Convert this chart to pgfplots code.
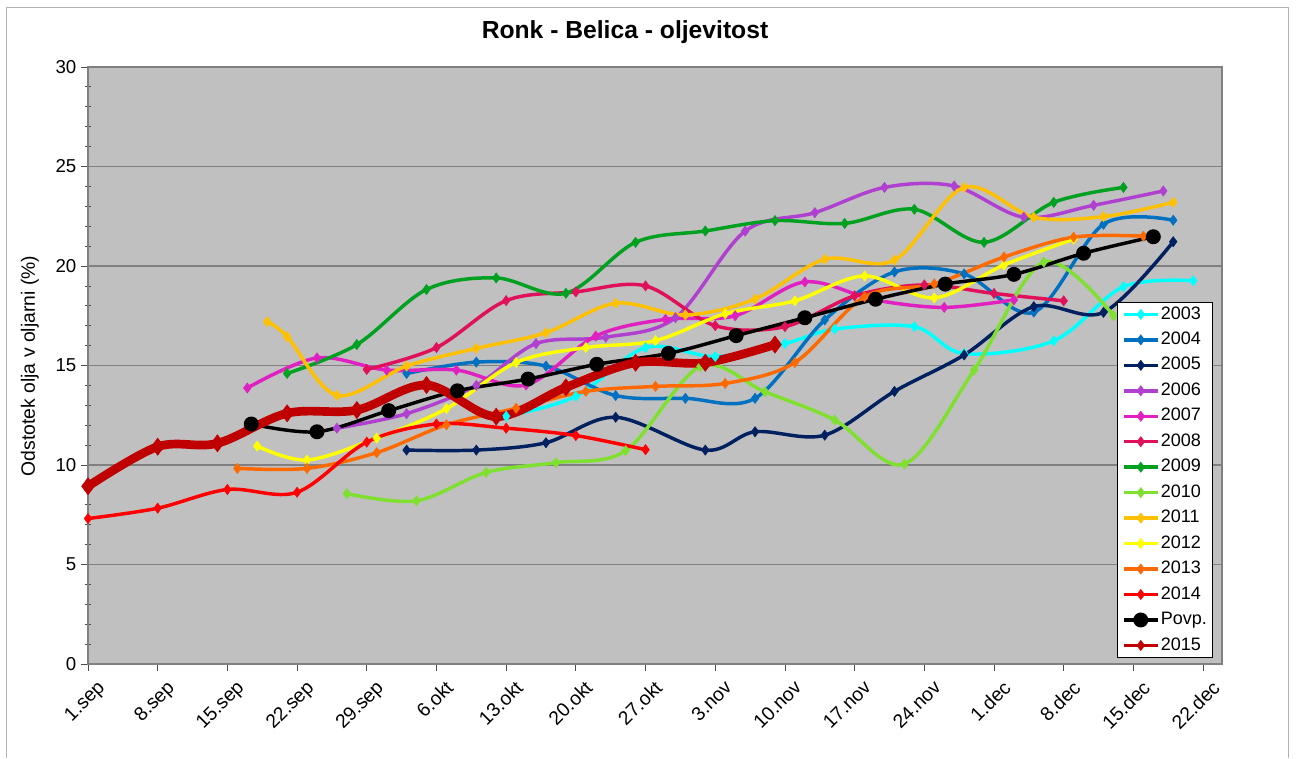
\documentclass[border=0pt]{standalone}
\usepackage{fontspec}
\setmainfont{Liberation Sans}
\usepackage{pgfplots}
\pgfplotsset{compat=1.18}
\definecolor{c03}{HTML}{00FFFF}
\definecolor{c04}{HTML}{0070C0}
\definecolor{c05}{HTML}{002060}
\definecolor{c06}{HTML}{B040D0}
\definecolor{c07}{HTML}{E020C0}
\definecolor{c08}{HTML}{E0105A}
\definecolor{c09}{HTML}{00A020}
\definecolor{c10}{HTML}{80E030}
\definecolor{c11}{HTML}{FFC000}
\definecolor{c12}{HTML}{FFFF00}
\definecolor{c13}{HTML}{FF6A00}
\definecolor{c14}{HTML}{FF0000}
\definecolor{c15}{HTML}{C00000}
\definecolor{bgc}{HTML}{C0C0C0}
\definecolor{gridc}{HTML}{808080}
\begin{document}
\begin{tikzpicture}
\useasboundingbox (0,0) rectangle (972pt,568.5pt);
\draw[gray!60, line width=0.75pt] (4.5pt,0) -- (4.5pt,562.5pt) -- (966pt,562.5pt) -- (966pt,0);
\node[font=\bfseries\fontsize{18.5}{20}\selectfont] at (468.75pt,544.5pt) {Ronk - Belica - oljevitost};
\node[rotate=90, font=\fontsize{14.5}{16}\selectfont] at (22.5pt,294pt) {Odstotek olja v oljarni (\%)};
\begin{axis}[
  at={(66pt,70.5pt)}, anchor=south west, scale only axis,
  width=850.5pt, height=447.75pt,
  xmin=0, xmax=113.9, ymin=0, ymax=30,
  clip=false,
  axis background/.style={fill=bgc},
  axis line style={draw=gridc, line width=0.9pt},
  xtick={0,7,...,112},
  xticklabels={1.sep,8.sep,15.sep,22.sep,29.sep,6.okt,13.okt,20.okt,27.okt,3.nov,10.nov,17.nov,24.nov,1.dec,8.dec,15.dec,22.dec},
  ytick={0,5,...,30},
  minor y tick num=4,
  xtick pos=bottom, ytick pos=left,
  ymajorgrids, major grid style={draw=gridc, line width=0.9pt},
  tick align=outside, major tick length=5.25pt, minor tick length=4.5pt,
  tick style={draw=black!70, line width=0.6pt},
  minor tick style={xshift=2.25pt},
  /pgf/number format/assume math mode=true,
  yticklabel style={font=\fontsize{14}{15}\selectfont},
  xticklabel style={font=\fontsize{14.5}{15}\selectfont, xshift=6pt, yshift=-6pt, rotate=45, anchor=north east, inner sep=0pt},
  legend cell align=left,
  legend style={at={(rel axis cs:0.9074,0.6064)}, anchor=north west, draw=black, line width=0.6pt, fill=white,
    font=\fontsize{13.5}{13.5}\selectfont, inner xsep=3.5pt, inner ysep=1.5pt, row sep=4.1pt,
    nodes={inner sep=1pt, text height=10pt, text depth=3pt}},
  legend image code/.code={\draw[mark repeat=2,mark phase=2,#1] plot coordinates {(0pt,0pt)(12.75pt,0pt)(25.5pt,0pt)};},
  ser/.style={color=#1, line width=2.6pt, smooth, tension=0.55, mark=diamond*, mark size=3.9pt, mark options={solid, line width=0.3pt}},
]
\addplot[ser=c03] coordinates {(42,12.45)(49,13.45)(56,15.9)(63,15.45)(70,16.1)(75,16.83)(83,16.95)(88,15.6)(97,16.24)(104,18.96)(111,19.26)};
\addlegendentry{2003}
\addplot[ser=c04] coordinates {(32,14.6)(39,15.17)(46,14.97)(53,13.49)(60,13.35)(67,13.35)(74,17.29)(81,19.7)(88,19.6)(95,17.68)(102,22.1)(109,22.3)};
\addlegendentry{2004}
\addplot[ser=c05] coordinates {(32,10.75)(39,10.75)(46,11.12)(53,12.4)(62,10.75)(67,11.67)(74,11.5)(81,13.7)(88,15.53)(95,17.96)(102,17.67)(109,21.22)};
\addlegendentry{2005}
\addplot[ser=c06] coordinates {(25,11.85)(32,12.58)(39,14.0)(45,16.1)(52,16.42)(59,17.4)(66,21.75)(73,22.68)(80,23.95)(87,24.02)(94,22.45)(101,23.05)(108,23.77)};
\addlegendentry{2006}
\addplot[ser=c07] coordinates {(16,13.87)(23,15.38)(30,14.77)(37,14.77)(44,14.02)(51,16.48)(58,17.32)(65,17.5)(72,19.2)(79,18.3)(86,17.92)(93,18.3)};
\addlegendentry{2007}
\addplot[ser=c08] coordinates {(28,14.8)(35,15.9)(42,18.26)(49,18.7)(56,19.0)(63,17.0)(70,16.95)(77,18.5)(84,19.05)(91,18.62)(98,18.25)};
\addlegendentry{2008}
\addplot[ser=c09] coordinates {(20,14.6)(27,16.05)(34,18.82)(41,19.4)(48,18.63)(55,21.19)(62,21.76)(69,22.28)(76,22.14)(83,22.85)(90,21.19)(97,23.2)(104,23.95)};
\addlegendentry{2009}
\addplot[ser=c10] coordinates {(26,8.56)(33,8.2)(40,9.63)(47,10.12)(54,10.72)(61.5,14.95)(68,13.68)(75,12.26)(82,10.05)(89,14.77)(96,20.2)(103,17.5)};
\addlegendentry{2010}
\addplot[ser=c11] coordinates {(18,17.2)(20,16.45)(25,13.5)(32,14.97)(39,15.86)(46,16.65)(53,18.13)(60,17.54)(67,18.34)(74,20.34)(81,20.3)(88,23.95)(95,22.45)(102,22.48)(109,23.2)};
\addlegendentry{2011}
\addplot[ser=c12] coordinates {(17,10.95)(22,10.25)(29,11.35)(36,12.83)(43,15.15)(50,15.9)(57,16.25)(64,17.6)(71,18.25)(78,19.5)(85,18.4)(92,20.05)(99,21.35)};
\addlegendentry{2012}
\addplot[ser=c13] coordinates {(15,9.83)(22,9.83)(29,10.62)(36,12.02)(43,12.85)(50,13.7)(57,13.95)(64,14.1)(71,15.15)(78,18.45)(85,19.1)(92,20.45)(99,21.45)(106,21.5)};
\addlegendentry{2013}
\addplot[ser=c14] coordinates {(0,7.31)(7,7.83)(14,8.77)(21,8.63)(28,11.15)(35,12.06)(42,11.85)(49,11.48)(56,10.77)};
\addlegendentry{2014}
\addplot[color=black, line width=2.6pt, smooth, tension=0.55, mark=*, mark size=4.3pt, mark options={solid}] coordinates {(16.4,12.06)(23,11.67)(30.2,12.73)(37.1,13.73)(44.2,14.32)(51.1,15.06)(58.3,15.61)(65.1,16.5)(72,17.4)(79.1,18.33)(86.1,19.09)(93,19.58)(100,20.64)(107,21.47)};
\addlegendentry{Povp.}
\addplot[color=c15, line width=6.5pt, smooth, tension=0.55, mark=diamond*, mark size=6.5pt, mark options={solid, line width=0.3pt}, forget plot] coordinates {(0,8.93)(7,10.92)(13,11.09)(20,12.6)(27,12.76)(34,14.02)(41,12.43)(48,13.9)(55,15.14)(62,15.14)(69,16.05)};
\addlegendimage{ser=c15}
\addlegendentry{2015}
\end{axis}
\end{tikzpicture}
\end{document}
